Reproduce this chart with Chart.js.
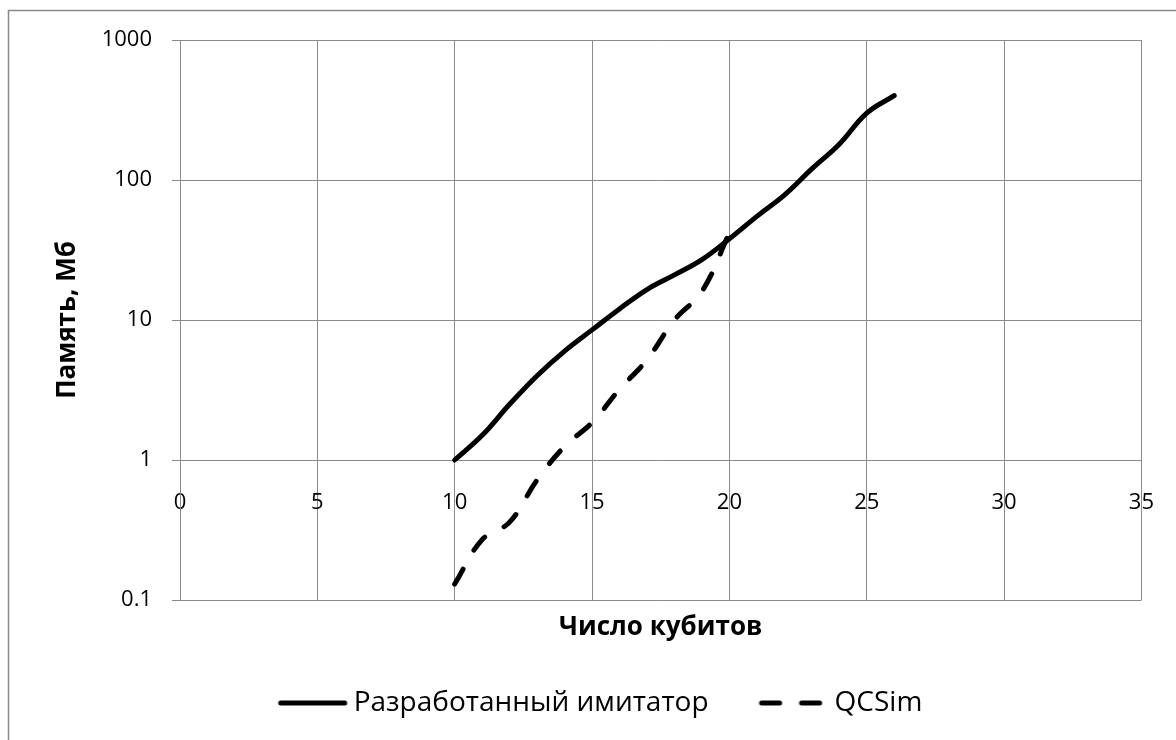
<!DOCTYPE html>
<html>
<head>
<meta charset="utf-8">
<script src="https://cdn.jsdelivr.net/npm/chart.js@4"></script>
<style>
  html, body { margin: 0; padding: 0; background: #fff; }
  #wrap { width: 1176px; height: 740px; }
</style>
</head>
<body>
<div id="wrap"><canvas id="myChart" width="1176" height="740"></canvas></div>
<script>
const simQubits = [10, 11, 12, 13, 14, 15, 16, 17, 18, 19, 20, 21, 22, 23, 24, 25, 26];
const simMemory = [1, 1.5, 2.5, 4, 6, 8.5, 12, 16.5, 21, 27, 38, 55, 78, 120, 180, 300, 400];
const qcsimQubits = [10, 11, 12, 13, 14, 15, 16, 17, 18, 19, 20];
const qcsimMemory = [0.13, 0.27, 0.36, 0.72, 1.25, 1.85, 3.2, 5.2, 10, 16, 42];
const yTickValues = [0.1, 1, 10, 100, 1000];

const gridColor = '#8a8a8a';
const fontFamily = "'Open Sans', sans-serif";

// little line samples for the legend (drawn a bit off-centre on purpose)
function lineSample(dash, end) {
  const c = document.createElement('canvas');
  c.width = 80; c.height = 10;
  const g = c.getContext('2d');
  g.strokeStyle = '#000';
  g.lineWidth = 5;
  g.lineCap = 'round';
  g.setLineDash(dash);
  g.beginPath();
  g.moveTo(12, 5);
  g.lineTo(end, 5);
  g.stroke();
  return c;
}

const framePlugin = {
  id: 'frame',
  beforeDraw(chart) {
    const c = chart.ctx;
    c.save();
    c.strokeStyle = gridColor;
    c.lineWidth = 1.5;
    c.beginPath();
    c.moveTo(8.5, 740);
    c.lineTo(8.5, 10.5);
    c.lineTo(1176, 10.5);
    c.stroke();
    c.restore();
  }
};

const ctx = document.getElementById('myChart').getContext('2d');

new Chart(ctx, {
  type: 'line',
  data: {
    datasets: [{
      label: 'Разработанный имитатор',
      data: simQubits.map((q, i) => ({x: q, y: simMemory[i]})),
      borderColor: '#000',
      borderWidth: 5,
      borderCapStyle: 'round',
      borderJoinStyle: 'round',
      tension: 0.4,
      pointRadius: 0,
      pointStyle: lineSample([], 76),
      fill: false
    },
    {
      label: 'QCSim',
      data: qcsimQubits.map((q, i) => ({x: q, y: qcsimMemory[i]})),
      borderColor: '#000',
      borderWidth: 5,
      borderDash: [17, 22],
      borderCapStyle: 'round',
      borderJoinStyle: 'round',
      tension: 0.4,
      pointRadius: 0,
      pointStyle: lineSample([18, 22], 72),
      fill: false
    }]
  },
  options: {
    responsive: false,
    animation: false,
    layout: {
      padding: {left: 48, right: 24, top: 40, bottom: 13}
    },
    scales: {
      x: {
        type: 'linear',
        position: 'bottom',
        min: 0,
        max: 35,
        ticks: {stepSize: 5, display: false},
        grid: {color: gridColor, drawTicks: false},
        border: {display: false},
        title: {
          display: true,
          text: 'Число кубитов',
          color: '#000',
          font: {family: fontFamily, size: 26, weight: 'bold'},
          padding: {top: 0, bottom: -4}
        },
        afterFit(scale) { scale.height = 39; }
      },
      xLabels: {
        type: 'linear',
        axis: 'x',
        position: {y: 1},
        min: 0,
        max: 35,
        ticks: {
          stepSize: 5,
          padding: 22,
          color: '#000',
          font: {family: fontFamily, size: 22}
        },
        grid: {display: false},
        border: {display: false}
      },
      y: {
        type: 'logarithmic',
        min: 0.1,
        max: 1000,
        afterBuildTicks(scale) {
          scale.ticks = yTickValues.map(v => ({value: v}));
        },
        ticks: {
          padding: 20,
          color: '#000',
          font: {family: fontFamily, size: 22},
          callback: v => String(v)
        },
        grid: {color: gridColor, tickLength: 8},
        border: {color: gridColor},
        title: {
          display: true,
          text: 'Память, Мб',
          color: '#000',
          font: {family: fontFamily, size: 26, weight: 'bold'},
          padding: {top: 4, bottom: 0}
        },
        afterFit(scale) { scale.width = 132; }
      }
    },
    plugins: {
      legend: {
        position: 'bottom',
        labels: {
          usePointStyle: true,
          pointStyleWidth: 62,
          padding: 50,
          color: '#000',
          font: {family: fontFamily, size: 28}
        }
      },
      tooltip: {enabled: false}
    }
  },
  plugins: [framePlugin]
});
</script>
</body>
</html>
